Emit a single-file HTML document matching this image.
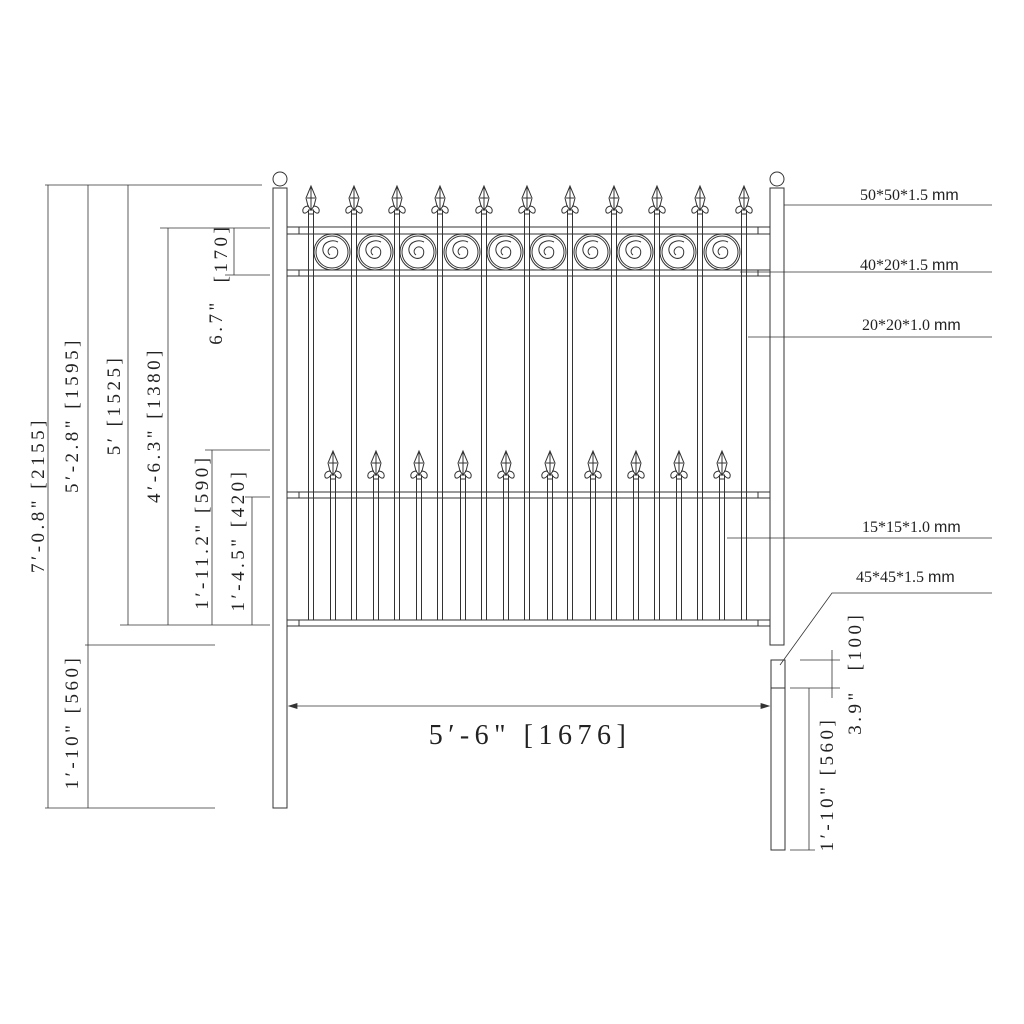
<!DOCTYPE html>
<html><head><meta charset="utf-8"><style>
html,body{margin:0;padding:0;background:#fff}
svg{display:block}
text{font-family:"Liberation Serif",serif;fill:#222}
.d{letter-spacing:3.5px}
</style></head><body>
<svg width="1024" height="1024" viewBox="0 0 1024 1024" xmlns="http://www.w3.org/2000/svg">
<defs>
<g id="fin" fill="none" stroke="#333" stroke-width="1">
<path d="M0,-24 L-5,-12 L-3,-4 L0,0 L3,-4 L5,-12 Z"/>
<path d="M0,-24 L0,0 M-4,-12 L4,-12"/>
<path d="M-2,-4 C-6,-4 -9,-2 -8,2 C-7,4 -4,3 -3,1 M2,-4 C6,-4 9,-2 8,2 C7,4 4,3 3,1"/>
<rect x="-2.5" y="0" width="5" height="4"/>
</g>
<g id="scr" fill="none" stroke="#333" stroke-width="1">
<circle r="18"/><circle r="16"/>
<path d="M-2,3 C-6,0 -3,-6 2,-5 C7,-4 7,4 2,6 C-4,8 -10,2 -9,-4 C-8,-10 0,-13 6,-10"/>
</g>
</defs>
<g stroke="#333" stroke-width="1" fill="none">
<rect x="273" y="188" width="14" height="620"/>
<circle cx="280" cy="179" r="7"/>
<rect x="770" y="188" width="14" height="457"/>
<circle cx="777" cy="179" r="7"/>
<rect x="771" y="660" width="14" height="190"/>
<line x1="771" y1="688" x2="785" y2="688"/>
<rect x="287" y="227" width="483" height="7"/>
<rect x="287" y="270" width="483" height="6"/>
<rect x="287" y="492" width="483" height="6"/>
<rect x="287" y="620" width="483" height="6"/>
<rect x="287" y="227" width="12" height="7"/><rect x="287" y="270" width="12" height="6"/>
<rect x="287" y="492" width="12" height="6"/><rect x="287" y="620" width="12" height="6"/>
<rect x="758" y="227" width="12" height="7"/><rect x="758" y="270" width="12" height="6"/>
<rect x="758" y="492" width="12" height="6"/><rect x="758" y="620" width="12" height="6"/>
<path d="M308.5,214V620M313.5,214V620M351.5,214V620M356.5,214V620M394.5,214V620M399.5,214V620M437.5,214V620M442.5,214V620M481.5,214V620M486.5,214V620M524.5,214V620M529.5,214V620M567.5,214V620M572.5,214V620M611.5,214V620M616.5,214V620M654.5,214V620M659.5,214V620M697.5,214V620M702.5,214V620M741.5,214V620M746.5,214V620"/>
<path d="M330.5,479V620M335.5,479V620M373.5,479V620M378.5,479V620M416.5,479V620M421.5,479V620M460.5,479V620M465.5,479V620M503.5,479V620M508.5,479V620M547.5,479V620M552.5,479V620M590.5,479V620M595.5,479V620M633.5,479V620M638.5,479V620M676.5,479V620M681.5,479V620M719.5,479V620M724.5,479V620"/>
</g>
<g>
<use href="#fin" x="311" y="210"/><use href="#fin" x="354" y="210"/><use href="#fin" x="397" y="210"/>
<use href="#fin" x="440" y="210"/><use href="#fin" x="484" y="210"/><use href="#fin" x="527" y="210"/>
<use href="#fin" x="570" y="210"/><use href="#fin" x="614" y="210"/><use href="#fin" x="657" y="210"/>
<use href="#fin" x="700" y="210"/><use href="#fin" x="744" y="210"/>
<use href="#fin" x="333" y="475"/><use href="#fin" x="376" y="475"/><use href="#fin" x="419" y="475"/>
<use href="#fin" x="463" y="475"/><use href="#fin" x="506" y="475"/><use href="#fin" x="550" y="475"/>
<use href="#fin" x="593" y="475"/><use href="#fin" x="636" y="475"/><use href="#fin" x="679" y="475"/>
<use href="#fin" x="722" y="475"/>
<use href="#scr" x="332" y="252"/><use href="#scr" x="375" y="252"/><use href="#scr" x="418" y="252"/>
<use href="#scr" x="462" y="252"/><use href="#scr" x="505" y="252"/><use href="#scr" x="548" y="252"/>
<use href="#scr" x="592" y="252"/><use href="#scr" x="635" y="252"/><use href="#scr" x="678" y="252"/>
<use href="#scr" x="722" y="252"/>
</g>
<g stroke="#333" stroke-width="0.8" fill="none">
<line x1="45" y1="185" x2="262" y2="185"/>
<line x1="160" y1="228" x2="270" y2="228"/>
<line x1="225" y1="275" x2="270" y2="275"/>
<line x1="205" y1="450" x2="270" y2="450"/>
<line x1="245" y1="497" x2="270" y2="497"/>
<line x1="120" y1="625" x2="270" y2="625"/>
<line x1="85" y1="645" x2="215" y2="645"/>
<line x1="45" y1="808" x2="215" y2="808"/>
<line x1="48" y1="185" x2="48" y2="808"/>
<line x1="88" y1="185" x2="88" y2="808"/>
<line x1="128" y1="185" x2="128" y2="625"/>
<line x1="168" y1="228" x2="168" y2="625"/>
<line x1="234" y1="228" x2="234" y2="275"/>
<line x1="212" y1="450" x2="212" y2="625"/>
<line x1="252" y1="497" x2="252" y2="625"/>
<line x1="289" y1="706" x2="769" y2="706"/>
<path d="M289,706 l8,-2.5 v5 z M769,706 l-8,-2.5 v5 z" fill="#333"/>
<line x1="784" y1="205" x2="992" y2="205"/>
<line x1="740" y1="272" x2="992" y2="272"/>
<line x1="748" y1="337" x2="992" y2="337"/>
<line x1="727" y1="538" x2="992" y2="538"/>
<polyline points="992,593 832,593 780,665"/>
<line x1="800" y1="660" x2="840" y2="660"/>
<line x1="790" y1="688" x2="840" y2="688"/>
<line x1="832" y1="650" x2="832" y2="698"/>
<line x1="809" y1="688" x2="809" y2="850"/>
<line x1="790" y1="850" x2="815" y2="850"/>
</g>
<g font-size="19" class="d">
<text transform="translate(44,495) rotate(-90)" text-anchor="middle">7′-0.8" [2155]</text>
<text transform="translate(78,415) rotate(-90)" text-anchor="middle">5′-2.8" [1595]</text>
<text transform="translate(120,405) rotate(-90)" text-anchor="middle">5′ [1525]</text>
<text transform="translate(160,425) rotate(-90)" text-anchor="middle">4′-6.3" [1380]</text>
<text transform="translate(222,322) rotate(-90)" text-anchor="middle">6.7"</text>
<text transform="translate(227,253) rotate(-90)" text-anchor="middle">[170]</text>
<text transform="translate(208,532) rotate(-90)" text-anchor="middle">1′-11.2" [590]</text>
<text transform="translate(244,540) rotate(-90)" text-anchor="middle">1′-4.5" [420]</text>
<text transform="translate(78,722) rotate(-90)" text-anchor="middle">1′-10" [560]</text>
<text transform="translate(861,641) rotate(-90)" text-anchor="middle">[100]</text>
<text transform="translate(861,712) rotate(-90)" text-anchor="middle">3.9"</text>
<text transform="translate(833,784) rotate(-90)" text-anchor="middle">1′-10" [560]</text>
</g>
<text x="530" y="744" font-size="28" text-anchor="middle" style="letter-spacing:5.5px">5′-6"  [1676]</text>
<g font-size="16">
<text x="860" y="200">50*50*1.5 <tspan font-family="Liberation Sans,sans-serif">mm</tspan></text>
<text x="860" y="270">40*20*1.5 <tspan font-family="Liberation Sans,sans-serif">mm</tspan></text>
<text x="862" y="330">20*20*1.0 <tspan font-family="Liberation Sans,sans-serif">mm</tspan></text>
<text x="862" y="532">15*15*1.0 <tspan font-family="Liberation Sans,sans-serif">mm</tspan></text>
<text x="856" y="582">45*45*1.5 <tspan font-family="Liberation Sans,sans-serif">mm</tspan></text>
</g>
</svg>
</body></html>
